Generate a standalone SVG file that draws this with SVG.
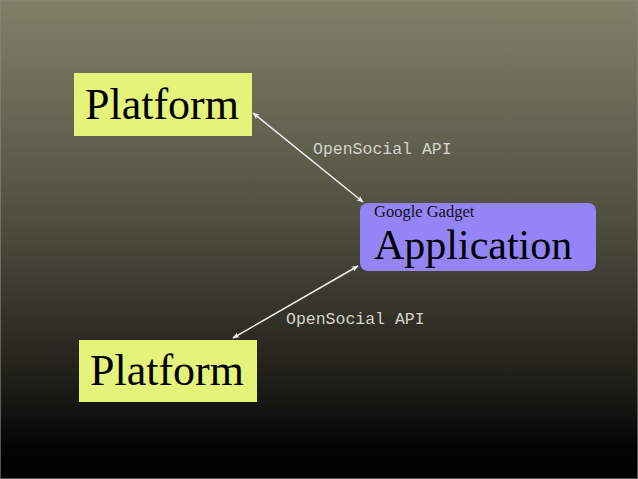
<svg xmlns="http://www.w3.org/2000/svg" width="638" height="479" viewBox="0 0 638 479">
  <defs>
    <linearGradient id="bg" x1="0" y1="0" x2="0" y2="1">
      <stop offset="0" stop-color="#81816a"/>
      <stop offset="0.45" stop-color="#505041"/>
      <stop offset="0.8" stop-color="#1e1e18"/>
      <stop offset="0.93" stop-color="#050504"/>
      <stop offset="1" stop-color="#000000"/>
    </linearGradient>
    <marker id="ah" viewBox="0 0 10 10" refX="9" refY="5" markerWidth="7" markerHeight="7" orient="auto-start-reverse" markerUnits="userSpaceOnUse">
      <path d="M0,1 L10,5 L0,9 L2.5,5 Z" fill="#eeeeee"/>
    </marker>
    <style>
      .plat { fill: #e4f47a; }
      .big { font-family: "Liberation Serif", "Times New Roman", serif; font-size: 44px; fill: #000; }
      .app { font-family: "Liberation Serif", "Times New Roman", serif; font-size: 42px; fill: #000; }
      .small { font-family: "Liberation Serif", "Times New Roman", serif; font-size: 16.5px; fill: #111; }
      .api { font-family: "Liberation Mono", "Courier New", monospace; font-size: 16.5px; fill: #d4d4cb; }
      .conn { stroke: #eeeeee; stroke-width: 1.5; fill: none; marker-start: url(#ah); marker-end: url(#ah); }
    </style>
  </defs>
  <rect width="638" height="479" fill="url(#bg)"/>
  <rect x="0.5" y="0.5" width="637" height="478" fill="none" stroke="#8a8a80" stroke-width="1" opacity="0.6"/>

  <g id="connectors">
    <line class="conn" x1="253" y1="113" x2="363" y2="202"/>
    <line class="conn" x1="233" y1="338" x2="358" y2="266"/>
    <text class="api" x="313" y="154">OpenSocial API</text>
    <text class="api" x="286" y="324">OpenSocial API</text>
  </g>

  <g id="platform-top">
    <rect class="plat" x="74" y="73" width="178" height="63"/>
    <text class="big" x="85" y="119">Platform</text>
  </g>

  <g id="application">
    <rect x="360" y="203" width="236" height="68" rx="8" ry="8" fill="#9484f5"/>
    <text class="small" x="374" y="217">Google Gadget</text>
    <text class="app" x="374" y="259">Application</text>
  </g>

  <g id="platform-bottom">
    <rect class="plat" x="79" y="340" width="178" height="62"/>
    <text class="big" x="90" y="385">Platform</text>
  </g>
</svg>
